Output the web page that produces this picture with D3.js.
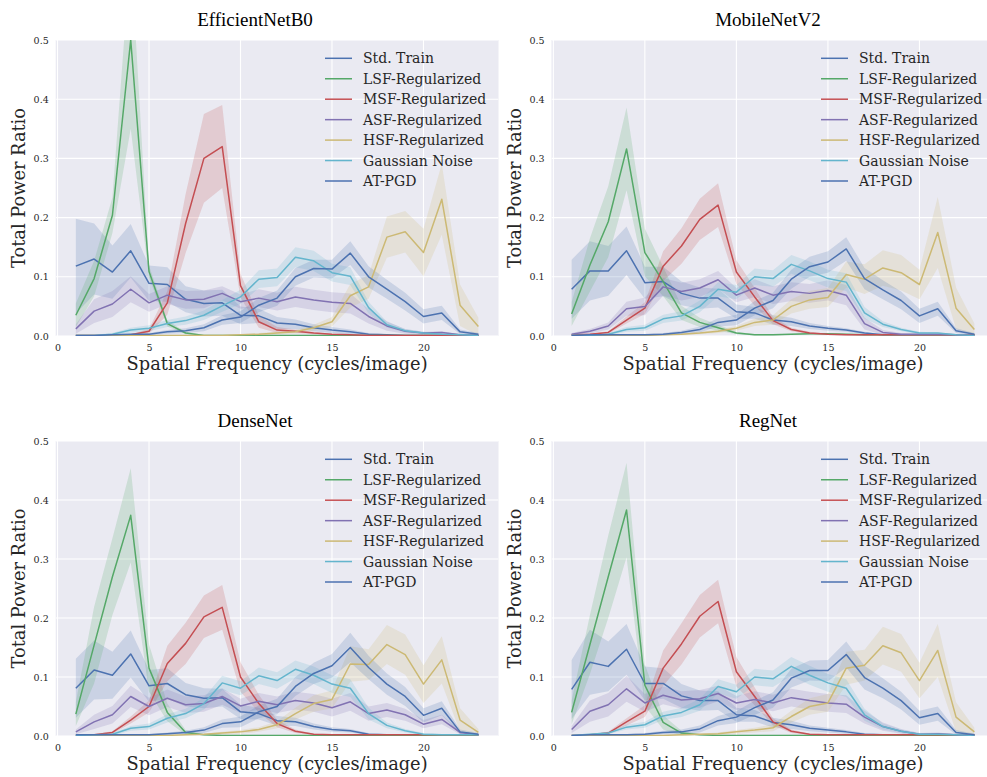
<!DOCTYPE html>
<html>
<head>
<meta charset="utf-8">
<script src="https://cdn.jsdelivr.net/npm/d3@7"></script>
<style>
  html, body { margin: 0; padding: 0; background: #ffffff; }
  svg { display: block; }
</style>
</head>
<body>
<svg id="chart" width="987" height="777"></svg>
<script>
// ---------------- DATA ----------------
const freqs = [1,2,3,4,5,6,7,8,9,10,11,12,13,14,15,16,17,18,19,20,21,22,23];
const seriesNames = ["Std. Train","LSF-Regularized","MSF-Regularized","ASF-Regularized","HSF-Regularized","Gaussian Noise","AT-PGD"];
const seriesColors = ["#4C72B0","#55A868","#C44E52","#8172B2","#CCB974","#64B5CD","#4C72B0"];
const panelTitles = ["EfficientNetB0","MobileNetV2","DenseNet","RegNet"];
const xTicks = [0,5,10,15,20];
const yTicks = [0,0.1,0.2,0.3,0.4,0.5];

// EfficientNetB0 means
const eff_std   = [0.118,0.130,0.108,0.144,0.089,0.087,0.062,0.055,0.056,0.035,0.034,0.022,0.020,0.014,0.010,0.007,0.003,0.002,0.001,0.001,0.001,0.001,0.001];
const eff_lsf   = [0.035,0.097,0.204,0.500,0.109,0.021,0.005,0.001,0.001,0.001,0.001,0.001,0.001,0.001,0.001,0.001,0.001,0.001,0.001,0.001,0.001,0.001,0.001];
const eff_msf   = [0.001,0.001,0.001,0.002,0.008,0.056,0.190,0.300,0.320,0.085,0.024,0.010,0.008,0.005,0.003,0.002,0.001,0.001,0.001,0.001,0.001,0.001,0.001];
const eff_asf   = [0.012,0.042,0.054,0.079,0.056,0.069,0.061,0.062,0.072,0.058,0.064,0.058,0.066,0.061,0.057,0.055,0.033,0.017,0.008,0.005,0.006,0.002,0.001];
const eff_hsf   = [0.001,0.001,0.001,0.001,0.001,0.001,0.001,0.001,0.001,0.002,0.003,0.005,0.007,0.014,0.024,0.068,0.083,0.167,0.176,0.141,0.231,0.052,0.016];
const eff_gauss = [0.001,0.001,0.003,0.010,0.013,0.021,0.026,0.035,0.051,0.066,0.096,0.099,0.133,0.127,0.107,0.101,0.048,0.019,0.009,0.005,0.003,0.002,0.001];
const eff_pgd   = [0.001,0.001,0.002,0.003,0.003,0.007,0.009,0.014,0.027,0.032,0.052,0.064,0.100,0.114,0.113,0.140,0.100,0.079,0.058,0.033,0.039,0.007,0.003];
// EfficientNetB0 CI half-widths
const eff_std_ci   = [0.080,0.060,0.045,0.045,0.030,0.029,0.022,0.022,0.022,0.015,0.012,0.010,0.008,0.006,0.005,0.004,0.002,0.001,0.001,0.001,0.001,0.001,0.001];
const eff_lsf_ci   = [0.020,0.030,0.030,0.150,0.010,0.005,0.002,0.001,0.001,0.001,0.001,0.001,0.001,0.001,0.001,0.001,0.001,0.001,0.001,0.001,0.001,0.001,0.001];
const eff_msf_ci   = [0.000,0.000,0.001,0.001,0.004,0.020,0.050,0.075,0.070,0.020,0.010,0.005,0.003,0.002,0.001,0.001,0.001,0.001,0.001,0.001,0.001,0.001,0.001];
const eff_asf_ci   = [0.008,0.020,0.022,0.022,0.015,0.015,0.015,0.015,0.012,0.012,0.015,0.015,0.017,0.017,0.017,0.017,0.012,0.008,0.004,0.002,0.002,0.001,0.001];
const eff_hsf_ci   = [0.001,0.001,0.001,0.001,0.001,0.001,0.001,0.001,0.001,0.001,0.002,0.002,0.003,0.005,0.008,0.020,0.020,0.035,0.035,0.040,0.060,0.035,0.015];
const eff_gauss_ci = [0.001,0.001,0.002,0.004,0.005,0.006,0.007,0.008,0.010,0.012,0.015,0.015,0.017,0.017,0.015,0.015,0.010,0.005,0.003,0.002,0.001,0.001,0.001];
const eff_pgd_ci   = [0.001,0.001,0.001,0.001,0.002,0.003,0.004,0.006,0.008,0.010,0.012,0.013,0.015,0.015,0.016,0.020,0.018,0.016,0.015,0.012,0.012,0.004,0.002];

// MobileNetV2 means
const mob_std   = [0.079,0.110,0.110,0.144,0.090,0.092,0.072,0.064,0.064,0.041,0.039,0.027,0.024,0.017,0.013,0.010,0.005,0.002,0.002,0.002,0.002,0.002,0.002];
const mob_lsf   = [0.037,0.120,0.193,0.316,0.141,0.092,0.039,0.023,0.014,0.005,0.002,0.002,0.003,0.004,0.004,0.003,0.002,0.002,0.002,0.002,0.002,0.002,0.002];
const mob_msf   = [0.002,0.003,0.006,0.027,0.047,0.118,0.152,0.197,0.221,0.108,0.066,0.026,0.011,0.005,0.003,0.002,0.002,0.002,0.002,0.002,0.002,0.002,0.002];
const mob_asf   = [0.003,0.008,0.017,0.046,0.050,0.083,0.075,0.081,0.095,0.069,0.081,0.069,0.075,0.072,0.077,0.069,0.021,0.006,0.003,0.003,0.003,0.002,0.001];
const mob_hsf   = [0.001,0.001,0.001,0.001,0.001,0.002,0.003,0.005,0.008,0.013,0.023,0.027,0.050,0.061,0.065,0.104,0.096,0.115,0.107,0.087,0.175,0.047,0.011];
const mob_gauss = [0.001,0.001,0.003,0.011,0.014,0.029,0.034,0.050,0.079,0.074,0.100,0.097,0.121,0.110,0.097,0.091,0.039,0.020,0.011,0.005,0.005,0.002,0.001];
const mob_pgd   = [0.001,0.002,0.002,0.002,0.002,0.003,0.006,0.011,0.023,0.027,0.047,0.060,0.096,0.117,0.125,0.147,0.097,0.078,0.060,0.034,0.046,0.009,0.003];
// MobileNetV2 CI half-widths
const mob_std_ci   = [0.050,0.050,0.042,0.041,0.027,0.025,0.020,0.018,0.016,0.012,0.010,0.008,0.007,0.005,0.004,0.003,0.002,0.001,0.001,0.001,0.001,0.001,0.001];
const mob_lsf_ci   = [0.020,0.045,0.060,0.070,0.040,0.025,0.012,0.008,0.005,0.002,0.001,0.001,0.001,0.001,0.001,0.001,0.001,0.001,0.001,0.001,0.001,0.001,0.001];
const mob_msf_ci   = [0.001,0.001,0.002,0.006,0.010,0.025,0.030,0.035,0.037,0.020,0.015,0.006,0.003,0.002,0.001,0.001,0.001,0.001,0.001,0.001,0.001,0.001,0.001];
const mob_asf_ci   = [0.002,0.004,0.006,0.012,0.015,0.015,0.015,0.015,0.015,0.012,0.015,0.015,0.016,0.016,0.017,0.017,0.010,0.004,0.002,0.001,0.001,0.001,0.001];
const mob_hsf_ci   = [0.001,0.001,0.001,0.001,0.001,0.001,0.001,0.002,0.003,0.004,0.006,0.008,0.012,0.015,0.016,0.022,0.025,0.030,0.030,0.025,0.060,0.035,0.010];
const mob_gauss_ci = [0.001,0.001,0.002,0.004,0.005,0.007,0.008,0.010,0.012,0.012,0.014,0.014,0.016,0.016,0.015,0.015,0.010,0.005,0.003,0.002,0.001,0.001,0.001];
const mob_pgd_ci   = [0.001,0.001,0.001,0.001,0.001,0.002,0.003,0.005,0.007,0.009,0.012,0.013,0.016,0.017,0.018,0.020,0.018,0.016,0.015,0.012,0.012,0.004,0.002];

// DenseNet means
const den_std   = [0.081,0.112,0.103,0.139,0.085,0.089,0.070,0.064,0.065,0.041,0.038,0.026,0.024,0.016,0.011,0.009,0.003,0.002,0.002,0.002,0.002,0.002,0.002];
const den_lsf   = [0.037,0.154,0.270,0.374,0.115,0.040,0.006,0.002,0.001,0.001,0.001,0.001,0.001,0.001,0.001,0.001,0.001,0.001,0.001,0.001,0.001,0.001,0.001];
const den_msf   = [0.001,0.002,0.006,0.027,0.050,0.123,0.157,0.202,0.218,0.100,0.055,0.021,0.008,0.003,0.002,0.002,0.002,0.002,0.002,0.002,0.002,0.002,0.002];
const den_asf   = [0.007,0.024,0.036,0.067,0.050,0.064,0.053,0.055,0.067,0.051,0.059,0.053,0.060,0.056,0.048,0.058,0.038,0.044,0.036,0.020,0.028,0.006,0.002];
const den_hsf   = [0.001,0.001,0.001,0.001,0.001,0.001,0.002,0.003,0.005,0.007,0.011,0.019,0.038,0.055,0.062,0.122,0.121,0.155,0.138,0.088,0.129,0.027,0.006];
const den_gauss = [0.001,0.002,0.003,0.013,0.016,0.030,0.038,0.055,0.090,0.081,0.102,0.094,0.113,0.103,0.088,0.081,0.038,0.018,0.009,0.003,0.002,0.002,0.002];
const den_pgd   = [0.002,0.002,0.002,0.002,0.002,0.004,0.006,0.010,0.021,0.024,0.041,0.050,0.084,0.106,0.119,0.150,0.116,0.088,0.067,0.035,0.047,0.007,0.003];
// DenseNet CI half-widths
const den_std_ci   = [0.050,0.050,0.040,0.040,0.027,0.026,0.020,0.017,0.015,0.012,0.010,0.008,0.007,0.005,0.004,0.003,0.002,0.001,0.001,0.001,0.001,0.001,0.001];
const den_lsf_ci   = [0.020,0.065,0.065,0.080,0.040,0.015,0.004,0.001,0.001,0.001,0.001,0.001,0.001,0.001,0.001,0.001,0.001,0.001,0.001,0.001,0.001,0.001,0.001];
const den_msf_ci   = [0.001,0.001,0.002,0.006,0.010,0.030,0.035,0.036,0.038,0.025,0.015,0.006,0.003,0.001,0.001,0.001,0.001,0.001,0.001,0.001,0.001,0.001,0.001];
const den_asf_ci   = [0.004,0.012,0.015,0.018,0.015,0.015,0.014,0.014,0.014,0.012,0.014,0.014,0.015,0.015,0.015,0.015,0.012,0.012,0.010,0.007,0.008,0.003,0.001];
const den_hsf_ci   = [0.001,0.001,0.001,0.001,0.001,0.001,0.001,0.001,0.002,0.003,0.004,0.006,0.010,0.014,0.015,0.030,0.026,0.033,0.034,0.032,0.040,0.020,0.006];
const den_gauss_ci = [0.001,0.001,0.002,0.004,0.005,0.007,0.008,0.010,0.012,0.012,0.014,0.014,0.015,0.015,0.015,0.015,0.010,0.005,0.003,0.002,0.001,0.001,0.001];
const den_pgd_ci   = [0.001,0.001,0.001,0.001,0.001,0.002,0.003,0.005,0.007,0.009,0.011,0.013,0.016,0.018,0.020,0.025,0.020,0.018,0.016,0.012,0.012,0.004,0.002];

// RegNet means
const reg_std   = [0.079,0.125,0.118,0.147,0.089,0.089,0.068,0.060,0.060,0.036,0.034,0.023,0.019,0.013,0.010,0.007,0.003,0.002,0.002,0.002,0.002,0.002,0.002];
const reg_lsf   = [0.040,0.155,0.270,0.383,0.086,0.023,0.005,0.002,0.001,0.001,0.001,0.001,0.001,0.001,0.001,0.001,0.001,0.001,0.001,0.001,0.001,0.001,0.001];
const reg_msf   = [0.001,0.002,0.005,0.024,0.042,0.115,0.156,0.203,0.228,0.109,0.067,0.024,0.008,0.003,0.002,0.002,0.002,0.002,0.002,0.002,0.002,0.002,0.002];
const reg_asf   = [0.011,0.042,0.053,0.080,0.056,0.069,0.061,0.063,0.072,0.056,0.062,0.056,0.065,0.060,0.056,0.054,0.032,0.016,0.008,0.003,0.004,0.002,0.001];
const reg_hsf   = [0.001,0.001,0.001,0.001,0.001,0.001,0.002,0.003,0.004,0.007,0.010,0.014,0.033,0.050,0.056,0.115,0.120,0.153,0.141,0.094,0.145,0.032,0.007];
const reg_gauss = [0.001,0.003,0.005,0.015,0.019,0.034,0.040,0.053,0.084,0.075,0.100,0.097,0.118,0.103,0.090,0.081,0.036,0.016,0.008,0.003,0.003,0.002,0.001];
const reg_pgd   = [0.001,0.002,0.002,0.002,0.003,0.006,0.007,0.012,0.026,0.032,0.048,0.061,0.098,0.111,0.111,0.138,0.099,0.081,0.060,0.031,0.038,0.006,0.002];
// RegNet CI half-widths
const reg_std_ci   = [0.050,0.055,0.042,0.043,0.029,0.026,0.020,0.017,0.016,0.012,0.010,0.008,0.007,0.005,0.004,0.003,0.002,0.001,0.001,0.001,0.001,0.001,0.001];
const reg_lsf_ci   = [0.020,0.050,0.070,0.080,0.035,0.012,0.004,0.001,0.001,0.001,0.001,0.001,0.001,0.001,0.001,0.001,0.001,0.001,0.001,0.001,0.001,0.001,0.001];
const reg_msf_ci   = [0.001,0.001,0.002,0.006,0.010,0.030,0.035,0.036,0.037,0.025,0.015,0.006,0.003,0.001,0.001,0.001,0.001,0.001,0.001,0.001,0.001,0.001,0.001];
const reg_asf_ci   = [0.006,0.018,0.020,0.022,0.015,0.015,0.015,0.015,0.013,0.012,0.014,0.014,0.015,0.015,0.015,0.015,0.011,0.007,0.004,0.002,0.002,0.001,0.001];
const reg_hsf_ci   = [0.001,0.001,0.001,0.001,0.001,0.001,0.001,0.001,0.002,0.003,0.004,0.006,0.010,0.014,0.015,0.028,0.026,0.032,0.032,0.030,0.045,0.025,0.007];
const reg_gauss_ci = [0.001,0.001,0.002,0.004,0.005,0.007,0.008,0.010,0.012,0.012,0.014,0.014,0.016,0.016,0.015,0.015,0.010,0.005,0.003,0.002,0.001,0.001,0.001];
const reg_pgd_ci   = [0.001,0.001,0.001,0.001,0.002,0.003,0.004,0.006,0.008,0.010,0.012,0.013,0.016,0.017,0.018,0.022,0.020,0.017,0.015,0.012,0.012,0.004,0.002];

// ---------------- BUILD ----------------
const panelMeans = [
  [eff_std, eff_lsf, eff_msf, eff_asf, eff_hsf, eff_gauss, eff_pgd],
  [mob_std, mob_lsf, mob_msf, mob_asf, mob_hsf, mob_gauss, mob_pgd],
  [den_std, den_lsf, den_msf, den_asf, den_hsf, den_gauss, den_pgd],
  [reg_std, reg_lsf, reg_msf, reg_asf, reg_hsf, reg_gauss, reg_pgd]
];
const panelCI = [
  [eff_std_ci, eff_lsf_ci, eff_msf_ci, eff_asf_ci, eff_hsf_ci, eff_gauss_ci, eff_pgd_ci],
  [mob_std_ci, mob_lsf_ci, mob_msf_ci, mob_asf_ci, mob_hsf_ci, mob_gauss_ci, mob_pgd_ci],
  [den_std_ci, den_lsf_ci, den_msf_ci, den_asf_ci, den_hsf_ci, den_gauss_ci, den_pgd_ci],
  [reg_std_ci, reg_lsf_ci, reg_msf_ci, reg_asf_ci, reg_hsf_ci, reg_gauss_ci, reg_pgd_ci]
];

const layout = [
  {left: 55.7, right: 498.5, top: 40, bottom: 336, titleX: 255},
  {left: 551.5, right: 994.5, top: 40, bottom: 336, titleX: 768},
  {left: 55.7, right: 498.5, top: 441, bottom: 736, titleX: 255},
  {left: 551.5, right: 994.5, top: 441, bottom: 736, titleX: 768}
];

const svg = d3.select("#chart");
const serif = "'DejaVu Serif', serif";
const textColor = "#262626";

layout.forEach((L, p) => {
  const x = d3.scaleLinear().domain([-0.1, 24.1]).range([L.left, L.right]);
  const y = d3.scaleLinear().domain([0, 0.5]).range([L.bottom, L.top]);
  const g = svg.append("g");

  const clipId = "clip" + p;
  svg.append("defs").append("clipPath").attr("id", clipId)
    .append("rect").attr("x", L.left).attr("y", L.top)
    .attr("width", L.right - L.left).attr("height", L.bottom - L.top);

  // background
  g.append("rect").attr("x", L.left).attr("y", L.top)
    .attr("width", L.right - L.left).attr("height", L.bottom - L.top)
    .attr("fill", "#EAEAF2");

  // grid
  const grid = g.append("g").attr("clip-path", `url(#${clipId})`);
  grid.selectAll(".gx").data(xTicks).join("line")
    .attr("x1", d => x(d)).attr("x2", d => x(d))
    .attr("y1", L.top).attr("y2", L.bottom)
    .attr("stroke", "#ffffff").attr("stroke-width", 1.1);
  grid.selectAll(".gy").data(yTicks).join("line")
    .attr("x1", L.left).attr("x2", L.right)
    .attr("y1", d => y(d)).attr("y2", d => y(d))
    .attr("stroke", "#ffffff").attr("stroke-width", 1.1);

  // axes (tick labels only, seaborn darkgrid style)
  const xAxis = d3.axisBottom(x).tickValues(xTicks).tickSize(0).tickPadding(8).tickFormat(d3.format("d"));
  const xa = g.append("g").attr("transform", `translate(0,${L.bottom})`).call(xAxis);
  xa.select(".domain").remove();
  xa.selectAll("text").attr("font-family", serif).attr("font-size", 9.5).attr("fill", textColor);

  const yAxis = d3.axisLeft(y).tickValues(yTicks).tickSize(0).tickPadding(7).tickFormat(d3.format(".1f"));
  const ya = g.append("g").attr("transform", `translate(${L.left},0)`).call(yAxis);
  ya.select(".domain").remove();
  ya.selectAll("text").attr("font-family", serif).attr("font-size", 9.5).attr("fill", textColor);

  const plot = g.append("g").attr("clip-path", `url(#${clipId})`);
  const means = panelMeans[p], cis = panelCI[p];

  // bands
  means.forEach((m, s) => {
    const ci = cis[s];
    const area = d3.area()
      .x((d, i) => x(freqs[i]))
      .y0((d, i) => y(Math.max(0, d - ci[i])))
      .y1((d, i) => y(d + ci[i]));
    plot.append("path").attr("d", area(m))
      .attr("fill", seriesColors[s]).attr("fill-opacity", 0.2).attr("stroke", "none");
  });
  // lines
  means.forEach((m, s) => {
    const line = d3.line().x((d, i) => x(freqs[i])).y(d => y(d));
    plot.append("path").attr("d", line(m))
      .attr("fill", "none").attr("stroke", seriesColors[s]).attr("stroke-width", 1.5)
      .attr("stroke-linejoin", "round");
  });

  // legend
  const leg = g.append("g");
  seriesNames.forEach((name, s) => {
    const cy = L.top + 18.3 + s * 20.45;
    leg.append("line").attr("x1", L.right - 173.5).attr("x2", L.right - 146.5)
      .attr("y1", cy).attr("y2", cy).attr("stroke", seriesColors[s]).attr("stroke-width", 1.5);
    leg.append("text").attr("x", L.right - 135.5).attr("y", cy + 5)
      .attr("font-family", serif).attr("font-size", 14).attr("fill", textColor).text(name);
  });

  // title
  g.append("text").attr("x", L.titleX).attr("y", L.top - 14)
    .attr("text-anchor", "middle").attr("font-family", "'Liberation Serif', 'Times New Roman', serif")
    .attr("font-size", 19).attr("fill", "#000").text(panelTitles[p]);

  // axis labels
  g.append("text").attr("x", (L.left + L.right) / 2).attr("y", L.bottom + 34)
    .attr("text-anchor", "middle").attr("font-family", serif).attr("font-size", 17.8)
    .attr("fill", textColor).text("Spatial Frequency (cycles/image)");
  g.append("text")
    .attr("transform", `translate(${L.left - 31},${(L.top + L.bottom) / 2}) rotate(-90)`)
    .attr("text-anchor", "middle").attr("font-family", serif).attr("font-size", 17.8)
    .attr("fill", textColor).text("Total Power Ratio");
});
</script>
</body>
</html>
